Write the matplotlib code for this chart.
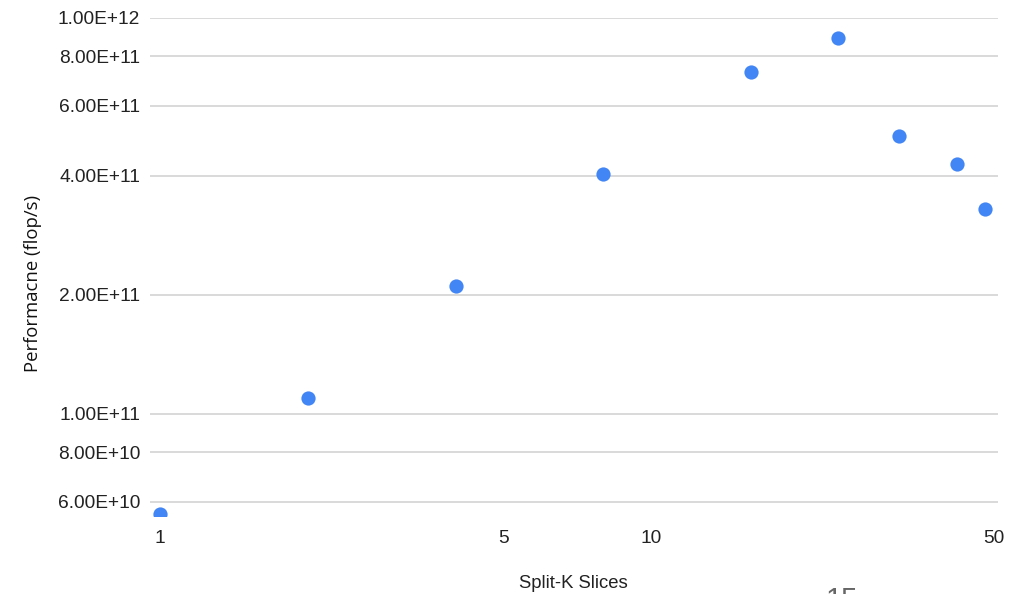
import matplotlib
matplotlib.use("Agg")
import matplotlib.pyplot as plt
from matplotlib.ticker import FixedLocator, NullLocator, FixedFormatter

slices = [1, 2, 4, 8, 16, 24, 32, 42, 48]
performance = [5.6e10, 1.10e11, 2.10e11, 4.04e11, 7.30e11, 8.90e11, 5.04e11, 4.28e11, 3.30e11]

y_ticks = [6e10, 8e10, 1e11, 2e11, 4e11, 6e11, 8e11, 1e12]
y_tick_labels = ["6.00E+10", "8.00E+10", "1.00E+11", "2.00E+11", "4.00E+11", "6.00E+11", "8.00E+11", "1.00E+12"]
x_ticks = [1, 5, 10, 50]
x_tick_labels = ["1", "5", "10", "50"]

W, H = 1019, 594
fig = plt.figure(figsize=(W / 100, H / 100), dpi=100)
left, right, top, bottom = 150, 998, 18, 516
ax = fig.add_axes([left / W, 1 - bottom / H, (right - left) / W, (bottom - top) / H])

ax.set_xscale("log")
ax.set_yscale("log")
ax.scatter(slices, performance, s=105, color="#4285F4", zorder=3, linewidths=0, clip_on=True)

ax.set_xlim(0.954, 50.9)
ax.set_ylim(5.525e10, 1.0e12)

ax.yaxis.set_major_locator(FixedLocator(y_ticks))
ax.yaxis.set_major_formatter(FixedFormatter(y_tick_labels))
ax.yaxis.set_minor_locator(NullLocator())
ax.xaxis.set_major_locator(FixedLocator(x_ticks))
ax.xaxis.set_major_formatter(FixedFormatter(x_tick_labels))
ax.xaxis.set_minor_locator(NullLocator())

ax.grid(axis="y", color="#d9d9d9", linewidth=1.4)
ax.set_axisbelow(True)
for s in ax.spines.values():
    s.set_visible(False)

ax.tick_params(axis="y", length=0, pad=7, labelsize=13.8, labelcolor="#222222")
ax.tick_params(axis="x", length=0, pad=10, labelsize=13.8, labelcolor="#222222")
for lbl in ax.get_xticklabels() + ax.get_yticklabels():
    lbl.set_fontfamily("Liberation Sans")

fig.text(33 / W, 1 - 284 / H, "Performacne (flop/s)", rotation=90, ha="center", va="center",
         fontsize=13.3, family="Open Sans", color="#111111")
fig.text(573 / W, 1 - 584 / H, "Split-K Slices", ha="center", va="center",
         fontsize=13.3, family="Liberation Sans", color="#222222")
fig.text(842 / W, 1 - 586 / H, "15", ha="center", va="top",
         fontsize=21, family="Liberation Sans", color="#666666")

fig.savefig("out.png", dpi=100)
